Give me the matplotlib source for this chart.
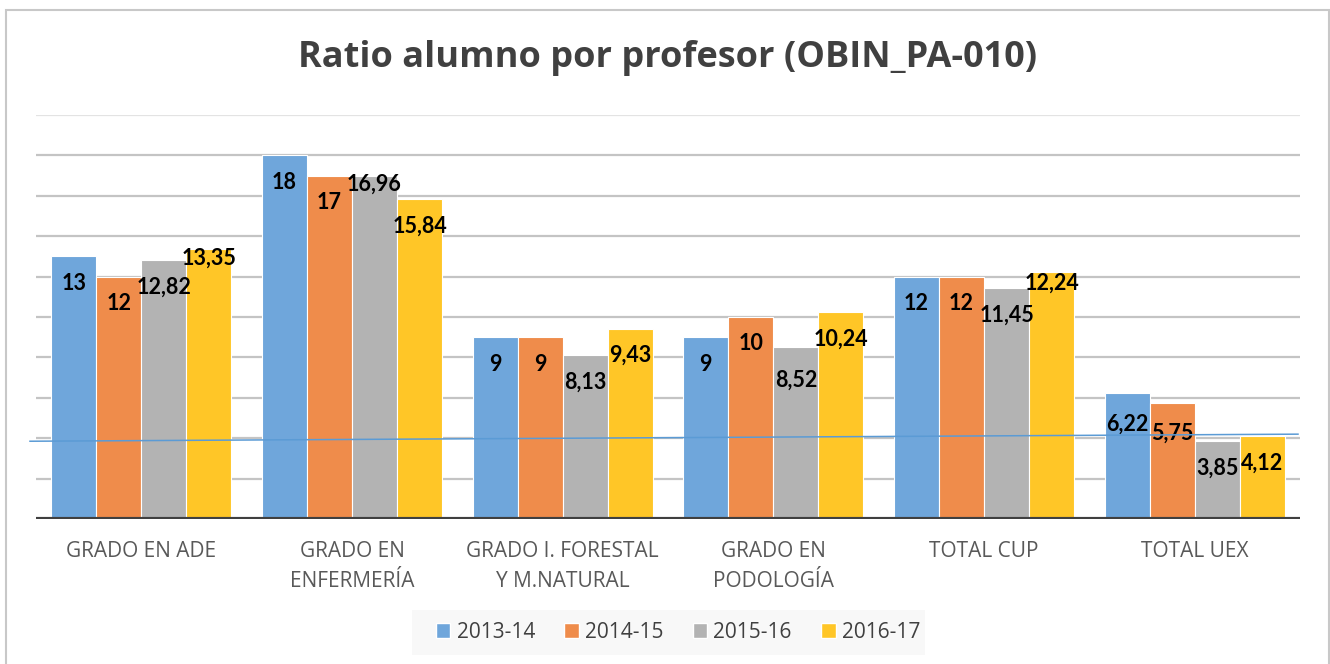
import matplotlib
matplotlib.use("Agg")
import matplotlib.pyplot as plt
import numpy as np
from matplotlib.patches import Rectangle

categories = ["GRADO EN ADE", "GRADO EN\nENFERMERÍA", "GRADO I. FORESTAL\nY M.NATURAL",
              "GRADO EN\nPODOLOGÍA", "TOTAL CUP", "TOTAL UEX"]
series_names = ["2013-14", "2014-15", "2015-16", "2016-17"]
v2013 = [13, 18, 9, 9, 12, 6.22]
v2014 = [12, 17, 9, 10, 12, 5.75]
v2015 = [12.82, 16.96, 8.13, 8.52, 11.45, 3.85]
v2016 = [13.35, 15.84, 9.43, 10.24, 12.24, 4.12]
trend_line = [3.85, 4.2]  # thin blue line across the chart (left, right)

series = [v2013, v2014, v2015, v2016]
colors = ["#6FA6DB", "#EF8C4B", "#B3B3B3", "#FFC627"]

def fmt(v):
    if float(v).is_integer():
        return str(int(v))
    return f"{v:.2f}".replace(".", ",")

# label vertical offset (pixels) relative to bar top; default inside end
default_off = -27
label_off = {(0, 3): -9, (1, 2): -8, (4, 3): -11, (3, 2): -33, (5, 0): -31, (5, 1): -30}

fig = plt.figure(figsize=(13.3, 6.64), dpi=100)
fig.patch.set_facecolor("white")

# outer frame
fig.add_artist(Rectangle((6/1330, -0.1), (1329-6)/1330, 1 - 9.5/664 + 0.1,
                         transform=fig.transFigure, fill=False,
                         edgecolor="#c8c8c8", linewidth=1.5))

ax = fig.add_axes([36/1330, 1 - 519/664, (1300-36)/1330, (519-115)/664])
ax.set_ylim(0, 20)
ax.set_xlim(-0.5, len(categories) - 0.5)

x = np.arange(len(categories))
bw = 0.214
for j, (vals, c) in enumerate(zip(series, colors)):
    pos = x + (j - 1.5) * bw
    ax.bar(pos, vals, width=bw, color=c, edgecolor="white", linewidth=0.8, zorder=3,
           label=series_names[j])
    for i, v in enumerate(vals):
        off = label_off.get((i, j), default_off)
        ax.annotate(fmt(v), (pos[i], v), xytext=(0, off), textcoords="offset pixels",
                    ha="center", va="center", fontsize=15.5, fontweight="bold",
                    family="Lato", color="black", zorder=5)

# gridlines
for yv in np.arange(2, 21, 2):
    col = "#e3e3e3" if yv == 20 else "#c4c4c4"
    ax.axhline(yv, color=col, linewidth=1.6, zorder=1)
ax.axhline(0, color="#404040", linewidth=3, zorder=4)

# thin blue line
ax.plot([-0.5 - 6/210.7, 5.5 - 2/210.7], trend_line, color="#5B9BD5", linewidth=1.1,
        zorder=6, clip_on=False)

for s in ax.spines.values():
    s.set_visible(False)
ax.set_yticks([])
ax.set_xticks(x)
ax.set_xticklabels(categories, fontsize=15, family="Open Sans", color="#595959",
                   linespacing=1.55)
ax.tick_params(axis="x", length=0, pad=16)

fig.text(668/1330, 1 - 58/664, "Ratio alumno por profesor (OBIN_PA-010)",
         ha="center", va="center", fontsize=26, fontweight="bold",
         family="Open Sans", color="#404040")

# legend background
fig.add_artist(Rectangle((412/1330, 1 - 655/664), (925-412)/1330, 45/664,
                         transform=fig.transFigure, facecolor="#F8F8F8",
                         edgecolor="none", zorder=0))
handles = [Rectangle((0, 0), 1, 1, facecolor=c, edgecolor="white") for c in colors]
leg = fig.legend(handles, series_names, loc="center", bbox_to_anchor=(678/1330, 1 - 632/664),
                 ncol=4, frameon=False, prop={"family": "Open Sans", "size": 15},
                 handlelength=0.7, handleheight=0.7, handletextpad=0.3,
                 columnspacing=1.4)
for t in leg.get_texts():
    t.set_color("#404040")

fig.savefig("out.png", dpi=100)
